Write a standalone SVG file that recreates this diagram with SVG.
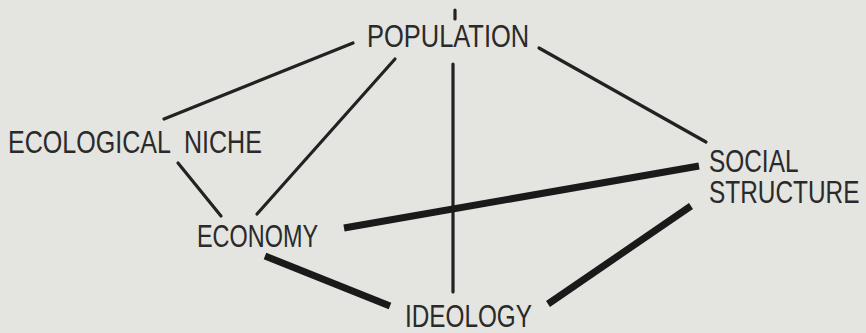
<svg xmlns="http://www.w3.org/2000/svg" width="866" height="333" viewBox="0 0 866 333">
<style>
.bg{fill:#e4e4e0}
text{font-family:"Liberation Sans",Arial,sans-serif;font-size:30.5px;fill:#2a2a2a}
.thin{stroke:#222;stroke-width:3.2;stroke-linecap:round;fill:none}
.thick{stroke:#1a1a1a;stroke-width:7;stroke-linecap:butt;fill:none}
</style>
<rect class="bg" x="0" y="0" width="866" height="333"/>
<g id="connectors">
<line class="thin" x1="353" y1="43" x2="164" y2="119"/>
<line class="thin" x1="395" y1="59" x2="257" y2="214"/>
<line class="thin" x1="453" y1="64" x2="453" y2="292"/>
<line class="thin" x1="539" y1="48" x2="706" y2="142"/>
<line class="thin" x1="178" y1="163" x2="221" y2="216"/>
<line class="thick" x1="344" y1="228" x2="699" y2="166"/>
<line class="thick" x1="265" y1="256" x2="390" y2="306"/>
<line class="thick" x1="548" y1="304" x2="691" y2="206"/>
<line class="thin" x1="455" y1="10" x2="455" y2="19" stroke-width="2"/>
</g>
<g id="population"><text transform="translate(367,47) scale(0.835,1)">POPULATION</text></g>
<g id="ecological-niche"><text transform="translate(8,153) scale(0.822,1)" xml:space="preserve">ECOLOGICAL  NICHE</text></g>
<g id="economy"><text transform="translate(197,247) scale(0.768,1)">ECONOMY</text></g>
<g id="ideology"><text transform="translate(405,327) scale(0.797,1)">IDEOLOGY</text></g>
<g id="social-structure"><text transform="translate(709,0) scale(0.8,1)"><tspan x="0" y="172">SOCIAL</tspan><tspan x="0" y="203">STRUCTURE</tspan></text></g>
</svg>
